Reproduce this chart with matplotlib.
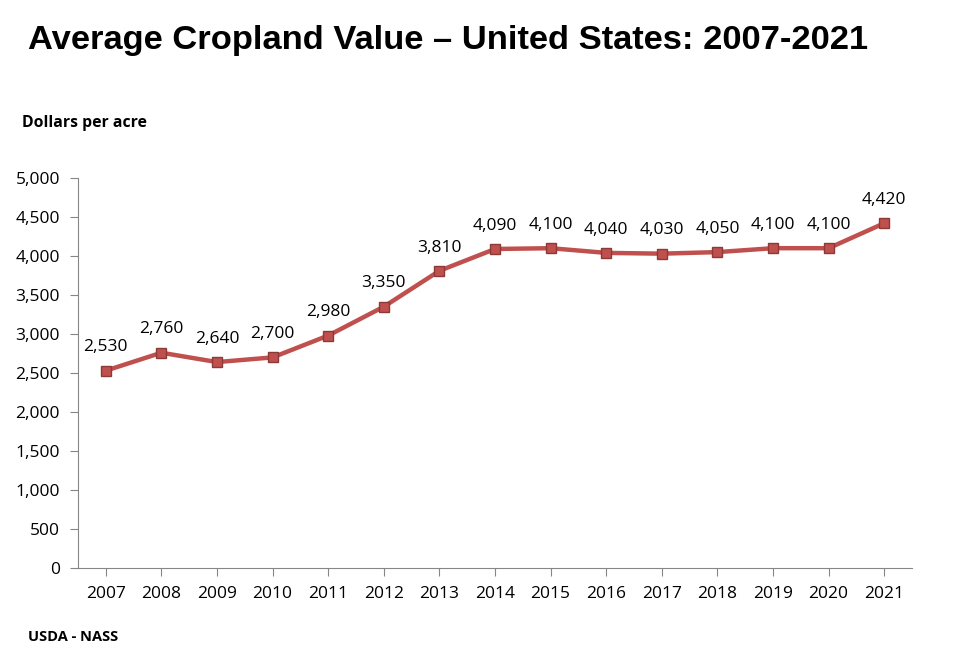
import matplotlib.pyplot as plt
from matplotlib.ticker import FuncFormatter

years = ["2007", "2008", "2009", "2010", "2011", "2012", "2013", "2014",
         "2015", "2016", "2017", "2018", "2019", "2020", "2021"]
values = [2530, 2760, 2640, 2700, 2980, 3350, 3810, 4090,
          4100, 4040, 4030, 4050, 4100, 4100, 4420]

plt.rcParams['font.family'] = ['Open Sans', 'DejaVu Sans']

fig = plt.figure(figsize=(9.59, 6.49), dpi=100)
ax = fig.add_axes([78 / 959, 1 - 568 / 649, (912 - 78) / 959, (568 - 178) / 649])

x = list(range(len(years)))
ax.plot(x, values, color="#C0504D", lw=3.2, marker="s", ms=7,
        mfc="#C0504D", mec="#8B3A38", mew=1, zorder=3)

for xi, v in zip(x, values):
    ax.annotate(f"{v:,}", (xi, v), xytext=(0, 11), textcoords="offset points",
                ha="center", va="bottom", fontsize=12.5)

ax.set_xlim(-0.5, len(years) - 0.5)
ax.set_ylim(0, 5000)
ax.set_yticks(range(0, 5001, 500))
ax.yaxis.set_major_formatter(FuncFormatter(lambda v, p: f"{int(v):,}"))
ax.set_xticks(x)
ax.set_xticklabels(years)

for s in ["top", "right"]:
    ax.spines[s].set_visible(False)
for s in ["left", "bottom"]:
    ax.spines[s].set_color("#868686")
ax.tick_params(axis="both", colors="#868686", labelcolor="black",
               labelsize=12.5, length=6, direction="out")
ax.tick_params(axis="x", pad=7)
ax.tick_params(axis="y", pad=7)

fig.text(28 / 959, 1 - 40 / 649, "Average Cropland Value \u2013 United States: 2007-2021",
         family="Liberation Sans", fontweight="bold", fontsize=24.8, va="center", ha="left")
fig.text(22 / 959, 1 - 123 / 649, "Dollars per acre", fontweight="bold", fontsize=11.3,
         va="center", ha="left")
fig.text(28 / 959, 1 - 637 / 649, "USDA - NASS", fontweight="bold", fontsize=10.5,
         va="center", ha="left")

fig.savefig("out.png", dpi=100)
